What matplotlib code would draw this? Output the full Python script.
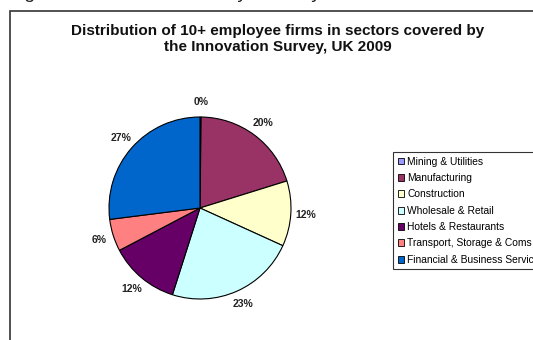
import matplotlib
matplotlib.use("Agg")
import matplotlib.pyplot as plt
from matplotlib.patches import Rectangle, Patch

plt.rcParams['font.family'] = ['Liberation Sans', 'DejaVu Sans']

# Sector shares of 10+ employee firms (%)
sectors = ["Mining & Utilities", "Manufacturing", "Construction",
           "Wholesale & Retail", "Hotels & Restaurants",
           "Transport, Storage & Coms", "Financial & Business Services"]
shares = [0.2, 20.0, 11.6, 23.1, 12.4, 5.7, 27.0]
colors = ["#9999FF", "#993366", "#FFFFCC", "#CCFFFF", "#660066",
          "#FF8080", "#0066CC"]

title = "Distribution of 10+ employee firms in sectors covered by\nthe Innovation Survey, UK 2009"
caption = "Figure 3: Innovation Survey firms by sector"

W, H = 533, 340
fig = plt.figure(figsize=(W / 100, H / 100), dpi=100)

# caption sitting just above the chart frame
fig.text(8 / W, 1 + 2.0 / H, caption, fontsize=14, color="#222222",
         ha="left", va="baseline")

# chart frame
fig.patches.append(Rectangle((10 / W, -0.1), 1.2, 1 - 11 / H + 0.1,
                             transform=fig.transFigure, fill=False,
                             edgecolor="#333333", linewidth=1.2))

fig.text(278 / W, 1 - 39 / H, title, fontsize=11, fontweight="bold",
         ha="center", va="center", linespacing=1.15, color="#111111")

cx, cy, r = 200, 208, 91
ax = fig.add_axes([(cx - r) / W, (H - cy - r) / H, 2 * r / W, 2 * r / H])
wedges, texts, autotexts = ax.pie(
    shares, colors=colors, startangle=90, counterclock=False,
    autopct="%.0f%%", pctdistance=1.16,
    wedgeprops=dict(edgecolor="black", linewidth=0.8),
    textprops=dict(fontsize=7.5, fontweight="bold", color="#222222"))
ax.set_xlim(-1, 1)
ax.set_ylim(-1, 1)
ax.set_aspect("equal")
ax.axis("off")

handles = [Patch(facecolor=c, edgecolor="black", linewidth=0.6) for c in colors]
leg = fig.legend(handles, sectors, loc="upper left",
                 bbox_to_anchor=(393 / W, 1 - 152 / H),
                 fontsize=7.4, frameon=True, fancybox=False,
                 handlelength=0.65, handleheight=0.65, handletextpad=0.3,
                 labelspacing=0.62, borderpad=0.45, borderaxespad=0)
leg.get_frame().set_edgecolor("black")
leg.get_frame().set_linewidth(0.8)

fig.savefig("out.png", dpi=100)
